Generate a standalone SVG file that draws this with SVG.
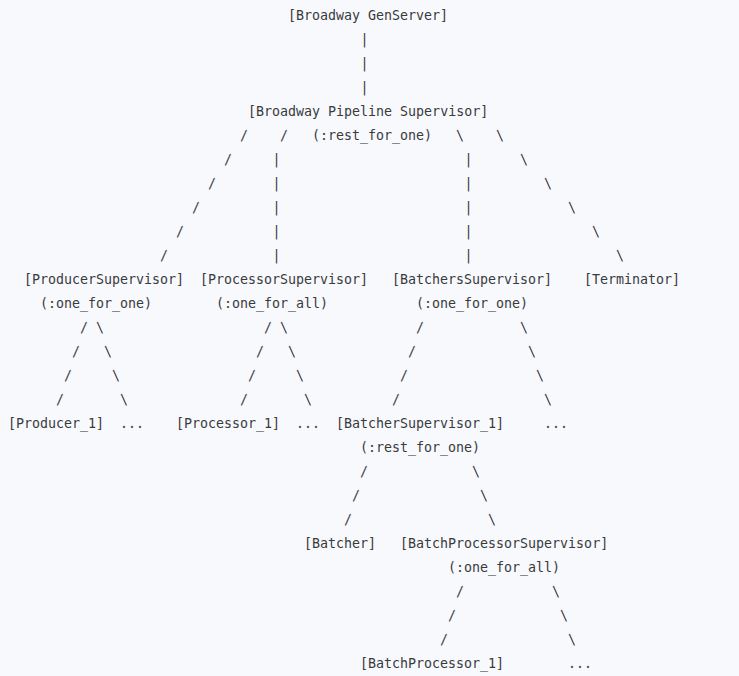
<svg xmlns="http://www.w3.org/2000/svg" width="739" height="676" viewBox="0 0 739 676">
<style>
text{font-family:"DejaVu Sans Mono","Liberation Mono",monospace;font-size:13.3px;fill:#383a3e;white-space:pre}
</style>
<rect width="739" height="676" fill="#f8f9fc"/>
<g id="connectors">
<text x="360.6" y="43.5">|</text>
<text x="360.6" y="67.5">|</text>
<text x="360.6" y="91.5">|</text>
<text x="240" y="139.5">/</text><text x="280" y="139.5">/</text><text x="456" y="139.5">\</text><text x="496" y="139.5">\</text>
<text x="224" y="163.5">/</text><text x="272.6" y="163.5">|</text><text x="464.6" y="163.5">|</text><text x="520" y="163.5">\</text>
<text x="208" y="187.5">/</text><text x="272.6" y="187.5">|</text><text x="464.6" y="187.5">|</text><text x="544" y="187.5">\</text>
<text x="192" y="211.5">/</text><text x="272.6" y="211.5">|</text><text x="464.6" y="211.5">|</text><text x="568" y="211.5">\</text>
<text x="176" y="235.5">/</text><text x="272.6" y="235.5">|</text><text x="464.6" y="235.5">|</text><text x="592" y="235.5">\</text>
<text x="160" y="259.5">/</text><text x="272.6" y="259.5">|</text><text x="464.6" y="259.5">|</text><text x="616" y="259.5">\</text>
<text x="80" y="331.5">/</text><text x="96" y="331.5">\</text><text x="264" y="331.5">/</text><text x="280" y="331.5">\</text><text x="416" y="331.5">/</text><text x="520" y="331.5">\</text>
<text x="72" y="355.5">/</text><text x="104" y="355.5">\</text><text x="256" y="355.5">/</text><text x="288" y="355.5">\</text><text x="408" y="355.5">/</text><text x="528" y="355.5">\</text>
<text x="64" y="379.5">/</text><text x="112" y="379.5">\</text><text x="248" y="379.5">/</text><text x="296" y="379.5">\</text><text x="400" y="379.5">/</text><text x="536" y="379.5">\</text>
<text x="56" y="403.5">/</text><text x="120" y="403.5">\</text><text x="240" y="403.5">/</text><text x="304" y="403.5">\</text><text x="392" y="403.5">/</text><text x="544" y="403.5">\</text>
<text x="360" y="475.5">/</text><text x="472" y="475.5">\</text>
<text x="352" y="499.5">/</text><text x="480" y="499.5">\</text>
<text x="344" y="523.5">/</text><text x="488" y="523.5">\</text>
<text x="456" y="595.5">/</text><text x="552" y="595.5">\</text>
<text x="448" y="619.5">/</text><text x="560" y="619.5">\</text>
<text x="440" y="643.5">/</text><text x="568" y="643.5">\</text>
</g>
<g id="genserver"><text x="288" y="19.5">[Broadway GenServer]</text></g>
<g id="pipeline-supervisor"><text x="248" y="115.5">[Broadway Pipeline Supervisor]</text><text x="312" y="139.5">(:rest_for_one)</text></g>
<g id="producer-supervisor"><text x="24" y="283.5">[ProducerSupervisor]</text><text x="40" y="307.5">(:one_for_one)</text></g>
<g id="processor-supervisor"><text x="200" y="283.5">[ProcessorSupervisor]</text><text x="216" y="307.5">(:one_for_all)</text></g>
<g id="batchers-supervisor"><text x="392" y="283.5">[BatchersSupervisor]</text><text x="416" y="307.5">(:one_for_one)</text></g>
<g id="terminator"><text x="584" y="283.5">[Terminator]</text></g>
<g id="producer-1"><text x="8" y="427.5">[Producer_1]</text></g>
<g id="producer-more"><text x="120" y="427.5">...</text></g>
<g id="processor-1"><text x="176" y="427.5">[Processor_1]</text></g>
<g id="processor-more"><text x="296" y="427.5">...</text></g>
<g id="batcher-supervisor-1"><text x="336" y="427.5">[BatcherSupervisor_1]</text><text x="360" y="451.5">(:rest_for_one)</text></g>
<g id="batcher-supervisor-more"><text x="544" y="427.5">...</text></g>
<g id="batcher"><text x="304" y="547.5">[Batcher]</text></g>
<g id="batch-processor-supervisor"><text x="400" y="547.5">[BatchProcessorSupervisor]</text><text x="448" y="571.5">(:one_for_all)</text></g>
<g id="batch-processor-1"><text x="360" y="667.5">[BatchProcessor_1]</text></g>
<g id="batch-processor-more"><text x="568" y="667.5">...</text></g>
</svg>
